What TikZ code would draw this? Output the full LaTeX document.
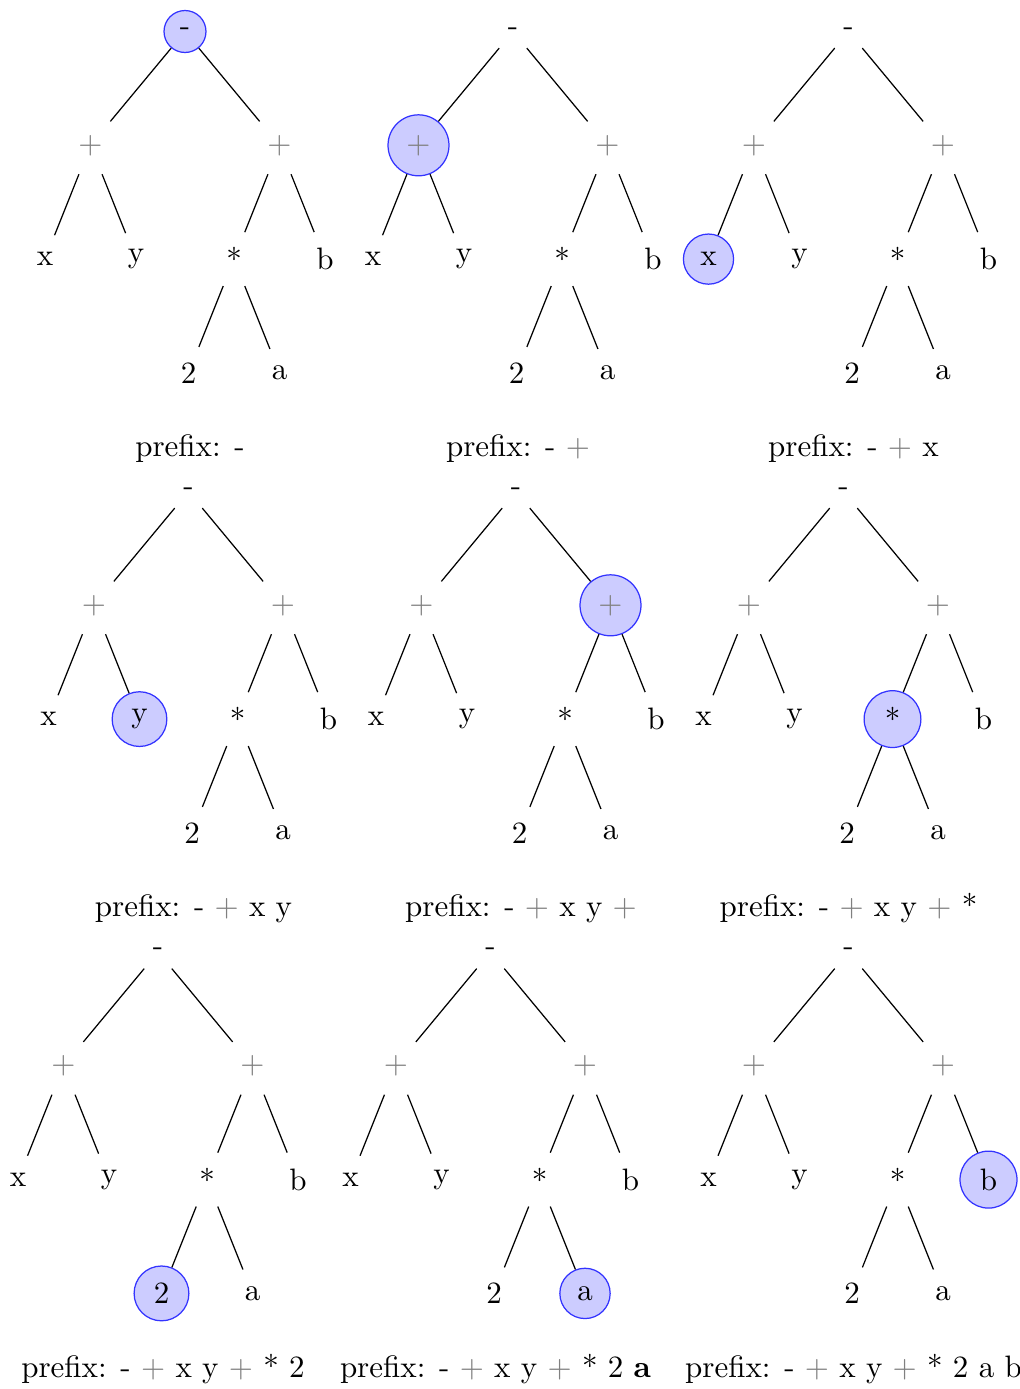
\documentclass[tikz,border=0pt]{standalone}
\usepackage{xcolor}
\newcommand\gp{\textcolor{black!50}{$+$}}
\tikzset{
  nd/.style={circle, inner sep=.3333em},
  hl/.style={nd, draw=blue!80, fill=blue!20},
  edge/.style={draw=black, line width=0.4pt},
  captxt/.style={inner sep=0pt, anchor=center}
}
\newcommand\treepanel[5]{%
  \begin{scope}[shift={(#2,#3)}]
    \tikzset{k1/.style={nd},k2/.style={nd},k3/.style={nd},k4/.style={nd},k5/.style={nd},
             k6/.style={nd},k7/.style={nd},k8/.style={nd},k9/.style={nd},k#4/.style={hl}}
    \node[k1] (#1r)  at (0,0) {-};
    \node[k2] (#1pl) at (-94.5,113.8) {\textcolor{black!50}{$+$}};
    \node[k5] (#1pr) at (94.5,113.8) {\textcolor{black!50}{$+$}};
    \node[k3] (#1x)  at (-140,227.6) {x};
    \node[k4] (#1y)  at (-49,227.6) {y};
    \node[k6] (#1st) at (49,227.6) {*};
    \node[k9] (#1b)  at (140,227.6) {b};
    \node[k7] (#1two) at (3.5,341.4) {2};
    \node[k8] (#1a)  at (94.5,341.4) {a};
    \draw[edge] (#1r) -- (#1pl);
    \draw[edge] (#1r) -- (#1pr);
    \draw[edge] (#1pl) -- (#1x);
    \draw[edge] (#1pl) -- (#1y);
    \draw[edge] (#1pr) -- (#1st);
    \draw[edge] (#1pr) -- (#1b);
    \draw[edge] (#1st) -- (#1two);
    \draw[edge] (#1st) -- (#1a);
    \node[captxt] (#1cap) at (5,417) {#5};
  \end{scope}}
\begin{document}
\begin{tikzpicture}[x=0.32258pt, y=-0.32258pt]
  \useasboundingbox (0,0) rectangle (1019,1389);
  \treepanel{p1}{185}{31.5}{1}{prefix: -}
  \treepanel{p2}{513}{31.5}{2}{prefix: - \gp}
  \treepanel{p3}{848.5}{31.5}{3}{prefix: - \gp{} x}
  \treepanel{p4}{188.5}{491.5}{4}{prefix: - \gp{} x y}
  \treepanel{p5}{516}{491.5}{5}{prefix: - \gp{} x y \gp}
  \treepanel{p6}{843.5}{491.5}{6}{prefix: - \gp{} x y \gp{} *}
  \treepanel{p7}{158}{952}{7}{prefix: - \gp{} x y \gp{} * 2}
  \treepanel{p8}{490.5}{952}{8}{prefix: - \gp{} x y \gp{} * 2 \textbf{a}}
  \treepanel{p9}{848.5}{952}{9}{prefix: - \gp{} x y \gp{} * 2 a b}
\end{tikzpicture}
\end{document}
